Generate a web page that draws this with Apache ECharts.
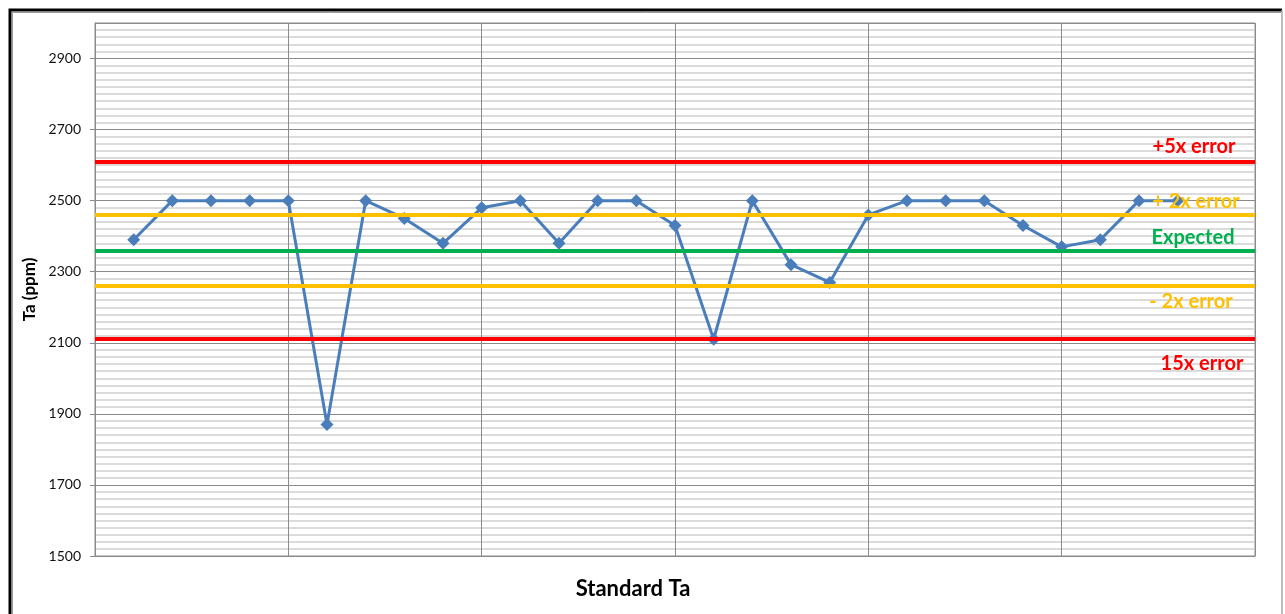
<!DOCTYPE html>
<html>
<head>
<meta charset="utf-8">
<script src="https://cdn.jsdelivr.net/npm/echarts@6/dist/echarts.min.js"></script>
<style>
  html, body { margin: 0; padding: 0; background: #fff; }
  #chart { width: 1285px; height: 614px; }
</style>
</head>
<body>
<div id="chart"></div>
<script>
// ---- data ----
const sampleIndex = [1,2,3,4,5,6,7,8,9,10,11,12,13,14,15,16,17,18,19,20,21,22,23,24,25,26,27,28];
const taValues = [2390,2500,2500,2500,2500,1870,2500,2450,2380,2480,2500,2380,2500,2500,2430,
                  2110,2500,2320,2270,2460,2500,2500,2500,2430,2370,2390,2500,2500];
const limitNames  = ['+5x error', '+ 2x error', 'Expected', '- 2x error', '15x error'];
const limitValues = [2610, 2460, 2360, 2260, 2110];
const limitColors = ['#FF0000', '#FFC000', '#00B050', '#FFC000', '#FF0000'];
const yTicks = [1500, 1700, 1900, 2100, 2300, 2500, 2700, 2900];

const FONT = 'Lato, "Open Sans", sans-serif';

const chart = echarts.init(document.getElementById('chart'), null, { renderer: 'canvas' });

const points = sampleIndex.map((x, i) => [x, taValues[i]]);

// label placement (pixel styles) for each limit text box
const labelPos = [
  { x: 1194, y: 147 },
  { x: 1196, y: 202 },
  { x: 1193, y: 238 },
  { x: 1191, y: 302 },
  { x: 1202, y: 364 }
];

const option = {
  animation: false,
  backgroundColor: '#fff',
  grid: {
    left: 95, right: 30, top: 23, bottom: 58,
    show: true, borderColor: '#8a8a8a', borderWidth: 1, backgroundColor: 'transparent'
  },
  xAxis: {
    type: 'value', min: 0, max: 30, interval: 5,
    name: 'Standard Ta', nameLocation: 'middle', nameGap: 22,
    nameTextStyle: {
      fontFamily: FONT, fontSize: 22, fontWeight: 'bold', color: '#000',
      padding: [0, 84, 0, 0]
    },
    axisLine: { show: true, lineStyle: { color: '#8a8a8a', width: 1 } },
    axisTick: { show: false },
    axisLabel: { show: false },
    splitLine: { show: true, lineStyle: { color: '#8a8a8a', width: 1 } }
  },
  yAxis: {
    type: 'value', min: 1500, max: 3000, interval: 200,
    name: 'Ta (ppm)', nameLocation: 'middle', nameGap: 56, nameRotate: 90,
    nameTextStyle: { fontFamily: FONT, fontSize: 17, fontWeight: 'bold', color: '#000' },
    axisLine: { show: true, lineStyle: { color: '#8a8a8a', width: 1 } },
    axisTick: { show: true, length: 5, lineStyle: { color: '#8a8a8a' } },
    axisLabel: {
      fontFamily: FONT, fontSize: 14, color: '#111', margin: 14,
      showMaxLabel: false,
      formatter: v => (yTicks.indexOf(v) >= 0 ? String(v) : '')
    },
    minorTick: { show: false, splitNumber: 10 },
    splitLine: { show: true, lineStyle: { color: '#8a8a8a', width: 1 } },
    minorSplitLine: { show: true, lineStyle: { color: '#cfcfcf', width: 1.5 } }
  },
  series: [
    {
      type: 'line',
      data: points,
      z: 2,
      symbol: 'diamond',
      symbolSize: 13,
      showAllSymbol: true,
      lineStyle: { color: '#4A7EBB', width: 3 },
      itemStyle: { color: '#4A7EBB' }
    },
    {
      type: 'line',
      data: [],
      z: 3,
      markLine: {
        silent: true,
        symbol: ['none', 'none'],
        label: { show: false },
        data: limitValues.map((v, i) => ({
          yAxis: v,
          lineStyle: { color: limitColors[i], width: 4, type: 'solid' }
        }))
      }
    }
  ],
  graphic: [
    // outer frame
    {
      type: 'polyline', silent: true, z: 10,
      shape: { points: [[10, 620], [10, 10], [1282, 10]] },
      style: { stroke: '#000', lineWidth: 3, fill: null }
    },
    {
      type: 'polyline', silent: true, z: 10,
      shape: { points: [[12.5, 620], [12.5, 12.5], [1281, 12.5]] },
      style: { stroke: '#9a9a9a', lineWidth: 1, fill: null }
    },
    {
      type: 'line', silent: true, z: 10,
      shape: { x1: 1282, y1: 10, x2: 1282, y2: 620 },
      style: { stroke: '#a8a8a8', lineWidth: 1.5 }
    }
  ].concat(limitNames.map((name, i) => ({
    type: 'text', silent: true, z: 20,
    x: labelPos[i].x, y: labelPos[i].y,
    style: {
      text: name,
      fill: limitColors[i],
      font: 'bold 20px ' + FONT,
      align: 'center', verticalAlign: 'middle'
    }
  })))
};

chart.setOption(option);
</script>
</body>
</html>
